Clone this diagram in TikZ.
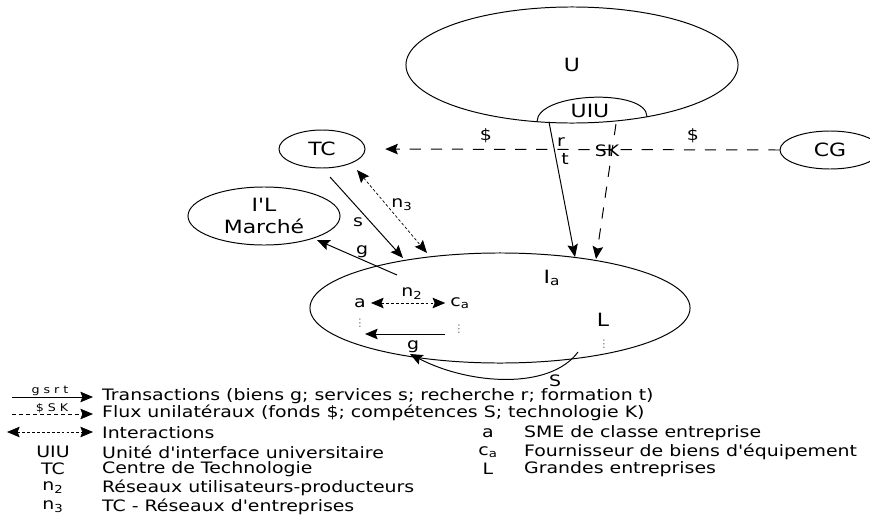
\documentclass[tikz,border=0pt]{standalone}
\usepackage{fontspec}
\setmainfont{DejaVu Sans}[FakeStretch=1.2, Ligatures=TeXOff]
\usetikzlibrary{shapes.geometric,arrows.meta}
\tikzset{
  blob/.style={draw, ellipse, inner sep=0pt},
  big/.style={font=\fontsize{13}{16}\selectfont},
  txt/.style={font=\fontsize{11.2}{13}\selectfont},
  tiny/.style={font=\fontsize{7.5}{9}\selectfont},
  trans/.style={-{Stealth[length=9pt,width=7.5pt,inset=1.5pt]}},
  flux/.style={trans, dash pattern=on 8pt off 7pt},
  inter/.style={{Stealth[length=9pt,width=7.5pt,inset=1.5pt]}-{Stealth[length=9pt,width=7.5pt,inset=1.5pt]}, line width=0.5pt, dash pattern=on 2pt off 1.5pt},
}
\begin{document}
\begin{tikzpicture}[x=0.025cm, y=-0.025cm, line width=0.7pt]
  \useasboundingbox (0,0) rectangle (870,520);
  % actors
  \node[blob, big, minimum width=8.3cm, minimum height=2.9cm] (U) at (572,65) {U};
  \node[blob, big, minimum width=2.15cm, minimum height=0.95cm] (TC) at (322,149) {TC};
  \node[blob, big, minimum width=2.5cm, minimum height=0.95cm] (CG) at (830,150) {CG};
  \node[blob, big, align=center, minimum width=3.8cm, minimum height=1.45cm] (IL) at (264,216) {I'L\\Marché};
  \node[blob, minimum width=9.5cm, minimum height=2.75cm] (Ia) at (500,308) {};
  \draw (537,121.7) .. controls (537,92) and (647,88) .. (647,116.7);
  \node[big] (UIU) at (590,111) {UIU};
  \node[big] (Ialab) at (552,278) {I\textsubscript{a}};
  % inside the industry
  \node[txt] (a) at (360,303) {a};
  \node[txt] (ca) at (460,303) {c\textsubscript{a}};
  \node[big] (L) at (603,320) {L};
  \node[tiny, gray] (adots) at (360,323) {⋮};
  \node[tiny, gray] (cadots) at (459,329) {⋮};
  \node[tiny, gray] (Ldots) at (604,344) {⋮};
  % free ends
  \coordinate (uiuS) at (549,122);
  \coordinate (uiuD) at (616,124);
  \coordinate (iaS) at (575,257);
  \coordinate (iaD) at (596,259);
  \coordinate (tcS) at (330,177);
  \coordinate (iaTs) at (403,258);
  \coordinate (tcN) at (357,170);
  \coordinate (iaTn) at (427,253);
  \coordinate (iaG) at (397,275);
  \coordinate (ilG) at (317,240);
  \coordinate (caG) at (445,334);
  \coordinate (aG) at (365,334);
  \coordinate (LS) at (578,352);
  \coordinate (aS) at (410,354);
  % flows
  \draw[flux] (CG.west) -- (TC.east) [shorten >=14pt];
  \draw[trans] (uiuS) -- (iaS);
  \draw[flux] (uiuD) -- (iaD);
  \draw[trans] (tcS) -- (iaTs);
  \draw[inter] (tcN) -- (iaTn);
  \draw[trans] (iaG) -- (ilG);
  \draw[inter] (a) -- (ca);
  \draw[trans] (caG) -- (aG);
  \draw[trans] (LS) .. controls (550,390) and (470,385) .. (aS);
  % flow labels
  \node[txt, anchor=south] (d1) at (486,148) {\$};
  \node[txt, anchor=south] (d2) at (693,148) {\$};
  \node[txt] (SK) at (607,151) {SK};
  \node[txt] (r) at (561,142) {r};
  \node[txt] (t) at (565,159) {t};
  \node[txt] (s) at (358,222) {s};
  \node[txt] (n3) at (402,205) {n\textsubscript{3}};
  \node[txt] (g1) at (362,252) {g};
  \node[txt] (n2) at (412,294) {n\textsubscript{2}};
  \node[txt] (g2) at (413,347) {g};
  \node[txt, inner sep=0.5pt] (S) at (555,381) {S};
  % legend
  \coordinate (k1a) at (12,397);  \coordinate (k1b) at (93,397);
  \coordinate (k2a) at (12,414);  \coordinate (k2b) at (93,414);
  \coordinate (k3a) at (7,432);   \coordinate (k3b) at (93,432);
  \draw[trans, line width=0.5pt] (k1a) -- (k1b);
  \draw[flux, line width=0.5pt, dash pattern=on 3pt off 2pt] (k2a) -- (k2b);
  \draw[inter] (k3a) -- (k3b);
  \node[tiny] (gsrt) at (50,391) {g s r t};
  \node[tiny] (dsk) at (52,408) {\$ S K};
  \begin{scope}[every node/.style={txt, anchor=west}]
    \node[inner ysep=0.5pt] (k1) at (97,396) {Transactions (biens g; services s; recherche r; formation t)};
    \node (k2) at (97,413) {Flux unilatéraux (fonds \$; compétences S; technologie K)};
    \node (k3) at (97,433) {Interactions};
    \node (k4) at (97,452) {Unité d'interface universitaire};
    \node (k5) at (97,469) {Centre de Technologie};
    \node (k6) at (97,488) {Réseaux utilisateurs-producteurs};
    \node (k7) at (97,507) {TC - Réseaux d'entreprises};
    \node (k8) at (519,433) {SME de classe entreprise};
    \node (k9) at (519,452) {Fournisseur de biens d'équipement};
    \node (k10) at (519,469) {Grandes entreprises};
  \end{scope}
  \begin{scope}[every node/.style={txt}]
    \node (s4) at (53,452) {UIU};
    \node (s5) at (53,469) {TC};
    \node (s6) at (53,488) {n\textsubscript{2}};
    \node (s7) at (53,507) {n\textsubscript{3}};
    \node (s8) at (488,433) {a};
    \node (s9) at (488,452) {c\textsubscript{a}};
    \node (s10) at (488,469) {L};
  \end{scope}
\end{tikzpicture}
\end{document}
